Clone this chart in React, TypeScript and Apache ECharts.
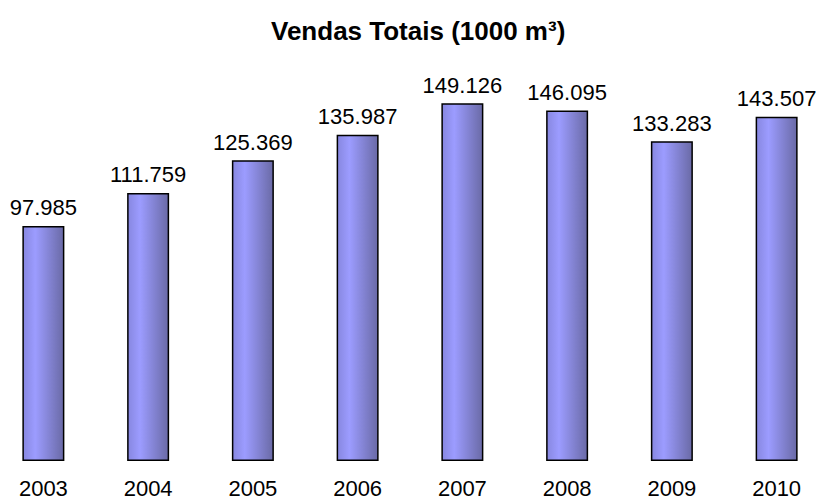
import React, { useEffect, useRef } from "react";
import * as echarts from "echarts";

const categories = ["2003", "2004", "2005", "2006", "2007", "2008", "2009", "2010"];
const salesValues = [97.985, 111.759, 125.369, 135.987, 149.126, 146.095, 133.283, 143.507];
const titleText = "Vendas Totais (1000 m³)";

const OFFSET_LEFT = 9;
const EXTRA_RIGHT = 13;

export default function App() {
  const ref = useRef<HTMLDivElement>(null);
  useEffect(() => {
    if (!ref.current) return;
    const chart = echarts.init(ref.current, null, { renderer: "svg" });
    const font = "'Liberation Sans', Arial, sans-serif";
    chart.setOption({
      animation: false,
      backgroundColor: "#ffffff",
      title: {
        text: titleText,
        left: 271 + OFFSET_LEFT,
        top: 18,
        padding: 0,
        textStyle: { fontFamily: font, fontSize: 26, fontWeight: "bold", color: "#000", lineHeight: 26 },
      },
      grid: { left: 0, right: 0, top: 77.2, bottom: 38, containLabel: false },
      xAxis: {
        type: "category",
        data: categories,
        axisLine: { show: false },
        axisTick: { show: false },
        axisLabel: {
          margin: 16,
          fontFamily: font,
          fontSize: 22,
          lineHeight: 22,
          color: "#000",
        },
      },
      yAxis: {
        type: "value",
        min: 0,
        max: 160,
        show: false,
        splitLine: { show: false },
      },
      series: [
        {
          type: "bar",
          data: salesValues,
          barWidth: 42,
          itemStyle: {
            borderColor: "#000",
            borderWidth: 1.5,
            color: new echarts.graphic.LinearGradient(0, 0, 1, 0, [
              { offset: 0, color: "#8787e0" },
              { offset: 0.3, color: "#9c9cff" },
              { offset: 1, color: "#6a6aa6" },
            ]),
          },
          label: {
            show: true,
            position: "top",
            distance: 7,
            fontFamily: font,
            fontSize: 22,
            lineHeight: 22,
            color: "#000",
            formatter: (p: any) => p.value.toFixed(3),
          },
        },
      ],
    });
    return () => chart.dispose();
  }, []);
  return (
    <div
      ref={ref}
      style={{
        position: "fixed",
        left: -OFFSET_LEFT,
        top: 0,
        width: 816 + OFFSET_LEFT + EXTRA_RIGHT,
        height: 499,
      }}
    />
  );
}
